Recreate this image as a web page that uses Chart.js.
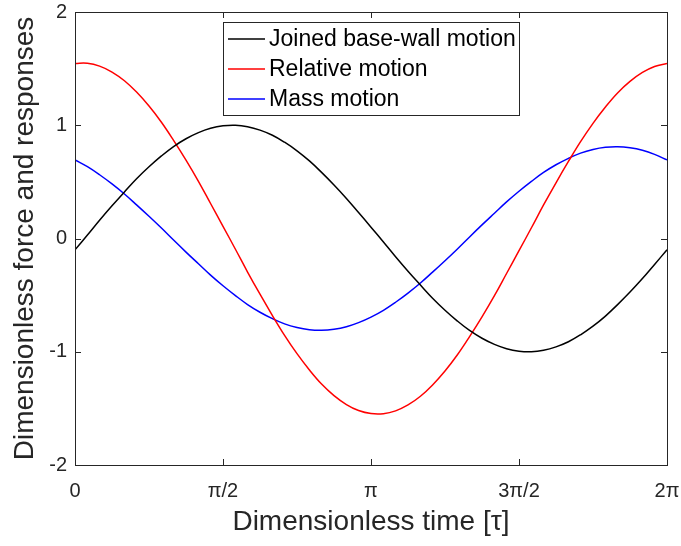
<!DOCTYPE html>
<html>
<head>
<meta charset="utf-8">
<script src="https://cdn.jsdelivr.net/npm/chart.js@4.4.1/dist/chart.umd.min.js"></script>
<style>
  html, body { margin: 0; padding: 0; background: #fff; }
  #wrap { width: 681px; height: 546px; }
</style>
</head>
<body>
<div id="wrap"><canvas id="chart"></canvas></div>
<script>
// time in units of pi (0 .. 2pi, every pi/24)
const tau = [0, 0.042, 0.083, 0.125, 0.167, 0.208, 0.25, 0.292, 0.333, 0.375, 0.417, 0.458,
             0.5, 0.542, 0.583, 0.625, 0.667, 0.708, 0.75, 0.792, 0.833, 0.875, 0.917, 0.958,
             1, 1.042, 1.083, 1.125, 1.167, 1.208, 1.25, 1.292, 1.333, 1.375, 1.417, 1.458,
             1.5, 1.542, 1.583, 1.625, 1.667, 1.708, 1.75, 1.792, 1.833, 1.875, 1.917, 1.958, 2];

const seriesLabels = ['Joined base-wall motion', 'Relative motion', 'Mass motion'];
const seriesColors = ['#000000', '#ff0000', '#0000ff'];

const joinedMotion = [-0.100, 0.031, 0.161, 0.289, 0.411, 0.527, 0.633, 0.729, 0.812, 0.881, 0.935, 0.973,
                      0.995, 1.000, 0.987, 0.957, 0.912, 0.850, 0.774, 0.685, 0.584, 0.473, 0.354, 0.229,
                      0.100, -0.031, -0.161, -0.289, -0.411, -0.527, -0.633, -0.729, -0.812, -0.881, -0.935, -0.973,
                      -0.995, -1.000, -0.987, -0.957, -0.912, -0.850, -0.774, -0.685, -0.584, -0.473, -0.354, -0.229,
                      -0.100];
const relativeMotion = [1.546, 1.547, 1.522, 1.470, 1.393, 1.293, 1.170, 1.027, 0.867, 0.692, 0.505, 0.309,
                        0.108, -0.095, -0.296, -0.492, -0.680, -0.855, -1.017, -1.161, -1.285, -1.387, -1.466, -1.519,
                        -1.546, -1.547, -1.522, -1.470, -1.393, -1.293, -1.170, -1.027, -0.867, -0.692, -0.505, -0.309,
                        -0.108, 0.095, 0.296, 0.492, 0.680, 0.855, 1.017, 1.161, 1.285, 1.387, 1.466, 1.519,
                        1.546];
const massMotion = [0.694, 0.634, 0.563, 0.482, 0.393, 0.297, 0.196, 0.092, -0.014, -0.120, -0.223, -0.323,
                    -0.417, -0.504, -0.583, -0.651, -0.708, -0.754, -0.786, -0.805, -0.810, -0.801, -0.779, -0.743,
                    -0.694, -0.634, -0.563, -0.482, -0.393, -0.297, -0.196, -0.092, 0.014, 0.120, 0.223, 0.323,
                    0.417, 0.504, 0.583, 0.651, 0.708, 0.754, 0.786, 0.805, 0.810, 0.801, 0.779, 0.743,
                    0.694];

const xTickLabels = { 0: '0', 0.5: 'π/2', 1: 'π', 1.5: '3π/2', 2: '2π' };

const axisColor = '#262626';
Chart.defaults.font.family = "'Liberation Sans', Arial, Helvetica, sans-serif";
Chart.defaults.color = axisColor;

function toPoints(values) {
    return values.map((v, i) => ({ x: tau[i], y: v }));
}

const allSeries = [joinedMotion, relativeMotion, massMotion];
const datasets = allSeries.map((values, i) => ({
    label: seriesLabels[i],
    data: toPoints(values),
    borderColor: seriesColors[i],
    backgroundColor: seriesColors[i],
    borderWidth: 1.5,
    pointRadius: 0,
    tension: 0.4,
    fill: false
}));

// box around the plot with inward ticks on all four sides
const boxPlugin = {
    id: 'boxPlugin',
    afterDraw(chart) {
        const ctx = chart.ctx;
        const a = chart.chartArea;
        const xs = chart.scales.x;
        const ys = chart.scales.y;
        const len = 6;
        ctx.save();
        ctx.strokeStyle = axisColor;
        ctx.lineWidth = 1;
        ctx.beginPath();
        xs.ticks.forEach(t => {
            const px = Math.round(xs.getPixelForValue(t.value)) + 0.5;
            ctx.moveTo(px, a.bottom); ctx.lineTo(px, a.bottom - len);
            ctx.moveTo(px, a.top); ctx.lineTo(px, a.top + len);
        });
        ys.ticks.forEach(t => {
            const py = Math.round(ys.getPixelForValue(t.value)) + 0.5;
            ctx.moveTo(a.left, py); ctx.lineTo(a.left + len, py);
            ctx.moveTo(a.right, py); ctx.lineTo(a.right - len, py);
        });
        ctx.stroke();
        ctx.strokeRect(Math.round(a.left) + 0.5, Math.round(a.top) + 0.5,
                       Math.round(a.right - a.left), Math.round(a.bottom - a.top));
        ctx.restore();
    }
};

// legend box inside the plot area, like the matlab one
const legendPlugin = {
    id: 'legendBox',
    afterDatasetsDraw(chart) {
        const ctx = chart.ctx;
        const a = chart.chartArea;
        const left = a.left + 148;
        const top = a.top + 10;
        const w = 296, h = 93, rowH = 30;
        ctx.save();
        ctx.fillStyle = '#fff';
        ctx.fillRect(left, top, w, h);
        ctx.strokeStyle = axisColor;
        ctx.lineWidth = 1;
        ctx.strokeRect(left + 0.5, top + 0.5, w, h);
        ctx.font = "23px 'Liberation Sans', Arial, sans-serif";
        ctx.textBaseline = 'middle';
        chart.data.datasets.forEach((ds, i) => {
            const y = top + 17 + i * rowH;
            ctx.strokeStyle = ds.borderColor;
            ctx.lineWidth = 1.5;
            ctx.beginPath();
            ctx.moveTo(left + 5, y);
            ctx.lineTo(left + 42, y);
            ctx.stroke();
            ctx.fillStyle = '#000';
            ctx.fillText(ds.label, left + 46, y + 1);
        });
        ctx.restore();
    }
};

new Chart(document.getElementById('chart').getContext('2d'), {
    type: 'line',
    data: { datasets: datasets },
    options: {
        responsive: true,
        maintainAspectRatio: false,
        animation: false,
        layout: { padding: { top: 12, right: 14, left: 0, bottom: 0 } },
        plugins: {
            legend: { display: false },
            tooltip: { enabled: false }
        },
        scales: {
            x: {
                type: 'linear',
                min: 0,
                max: 2,
                grid: { display: false, drawTicks: false },
                border: { display: false },
                ticks: {
                    stepSize: 0.5,
                    padding: 14,
                    maxRotation: 0,
                    font: { size: 20 },
                    color: axisColor,
                    callback: v => xTickLabels[v]
                },
                title: {
                    display: true,
                    text: 'Dimensionless time [τ]',
                    font: { size: 28 },
                    color: axisColor,
                    padding: { top: 0, bottom: 7 }
                },
                afterFit(scale) {
                    scale.height = 81;
                    scale.paddingLeft = 0;
                    scale.paddingRight = 0;
                }
            },
            y: {
                min: -2,
                max: 2,
                grid: { display: false, drawTicks: false },
                border: { display: false },
                ticks: {
                    stepSize: 1,
                    padding: 8,
                    font: { size: 20 },
                    color: axisColor
                },
                title: {
                    display: true,
                    text: 'Dimensionless force and responses',
                    font: { size: 28 },
                    color: axisColor,
                    padding: { top: 8, bottom: 0 }
                },
                afterFit(scale) {
                    scale.width = 75;
                    scale.paddingTop = 0;
                    scale.paddingBottom = 0;
                }
            }
        }
    },
    plugins: [boxPlugin, legendPlugin]
});
</script>
</body>
</html>
